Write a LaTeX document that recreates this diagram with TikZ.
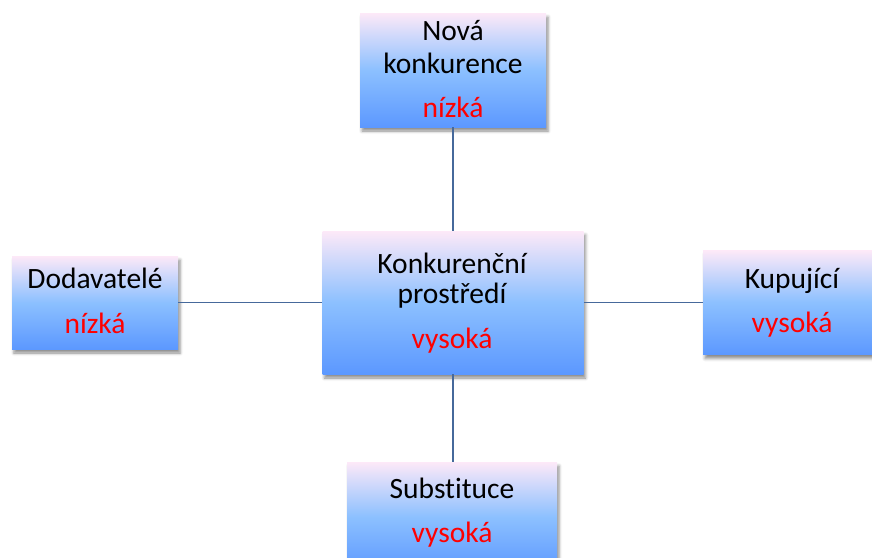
\documentclass[tikz,border=0pt]{standalone}
\usepackage{fontspec}
\setmainfont[Ligatures=NoCommon]{Carlito}
\usetikzlibrary{shadows.blur}
\definecolor{gtop}{RGB}{253,233,248}
\definecolor{gmid}{RGB}{140,192,255}
\definecolor{gbot}{RGB}{92,152,255}
\definecolor{linkc}{RGB}{70,105,155}
\begin{document}
\begin{tikzpicture}[x=1pt,y=-1pt,
  box/.style={draw=none, rectangle, inner sep=0pt, top color=gtop, bottom color=gbot, middle color=gmid,
    blur shadow={shadow xshift=2pt, shadow yshift=-4pt, shadow blur radius=3pt, shadow opacity=45}},
  lbl/.style={anchor=base, inner sep=0pt, font=\fontsize{29.5}{35}\selectfont},
  val/.style={lbl, text=red},
  link/.style={draw=linkc, line width=1.6pt}]
\useasboundingbox (0,0) rectangle (872,557);
% boxes
\node[box, minimum width=186pt, minimum height=114pt] (top) at (453,70) {};
\node[box, minimum width=261pt, minimum height=143pt] (center) at (453,302.5) {};
\node[box, minimum width=166pt, minimum height=93pt] (left) at (95,302.5) {};
\node[box, minimum width=171pt, minimum height=104pt] (right) at (788.5,302.5) {};
\node[box, minimum width=210pt, minimum height=110pt] (bottom) at (452,517) {};
% connectors
\draw[link] (top.south) -- (center.north);
\draw[link] (center.south) -- (bottom.north -| center.south);
\draw[link] (left.east) -- (center.west);
\draw[link] (center.east) -- (right.west);
% texts
\node[lbl] (t1) at (453,40) {Nová};
\node[lbl] (t2) at (453,73) {konkurence};
\node[val] (t3) at (453,117) {nízká};
\node[lbl] (c1) at (452,273) {Konkurenční};
\node[lbl] (c2) at (452,303) {prostředí};
\node[val] (c3) at (452,348) {vysoká};
\node[lbl] (l1) at (95,288) {Dodavatelé};
\node[val] (l2) at (95,333) {nízká};
\node[lbl] (r1) at (792,288) {Kupující};
\node[val] (r2) at (792,332) {vysoká};
\node[lbl] (b1) at (452,498) {Substituce};
\node[val] (b2) at (452,542) {vysoká};
\end{tikzpicture}
\end{document}
